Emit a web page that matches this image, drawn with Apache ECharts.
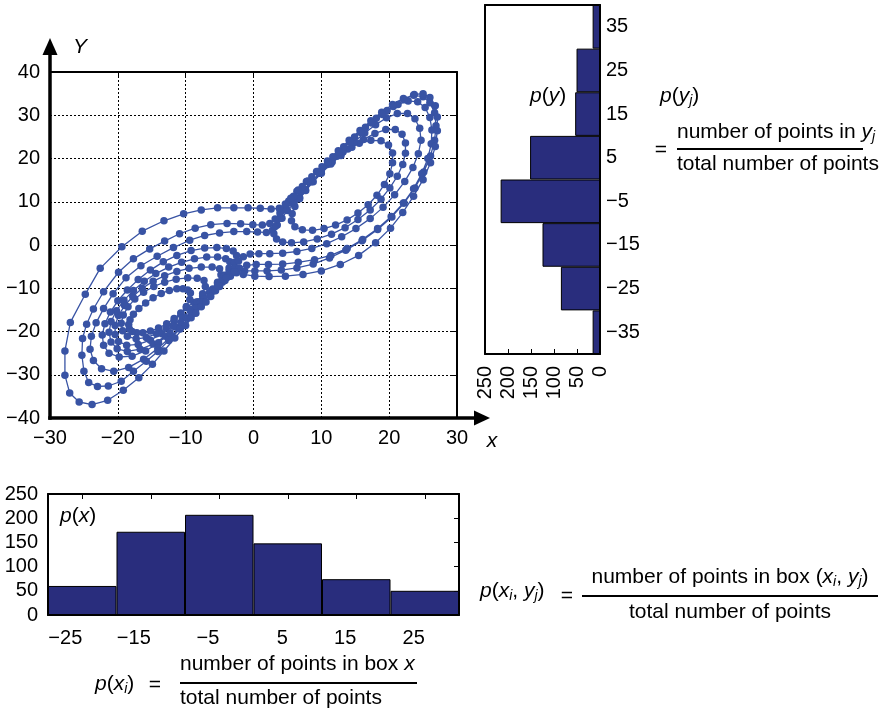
<!DOCTYPE html>
<html>
<head>
<meta charset="utf-8">
<script src="https://cdn.jsdelivr.net/npm/echarts@6/dist/echarts.min.js"></script>
<style>
html,body{margin:0;padding:0;background:#fff;}
#main{width:886px;height:710px;}
</style>
</head>
<body>
<div id="main"></div>
<script>
//trajectory, read loop by loop off the picture, [x, y]
var loopR5 = [[4.2,8],[5.2,10.2],[6.4,12.4],[7.8,14.7],[9.3,17],[10.9,19.4],[12.5,21.8],[14.1,24.2],[15.7,26.5],[17.3,28.7],[18.9,30.7],[20.5,32.5],[22.1,33.9],[23.6,34.6],[25,34.3],[26,32.9],[26.7,30.6],[26.9,27.6],[26.7,24.2],[26.1,20.6],[25.1,16.9],[23.8,13.2],[22.2,9.7],[20.4,6.5],[18.3,3.6],[16,1],[13.6,-1.2],[11.2,-3],[8.8,-4.4],[6.4,-5.3],[4.1,-5.8],[2,-6],[0.2,-6],[-1.3,-6],[-2.5,-6.4],[-3.4,-7.2],[-4.6,-8.6],[-6,-10.2],[-7.5,-11.8],[-8.8,-13.3],[-9.9,-14.5]];
var loopL1 = [[-10.7,-15.7],[-11.7,-17],[-12.8,-18.2],[-14,-19.2],[-15.2,-19.9],[-16.3,-20.3],[-17.2,-20.3],[-17.9,-20],[-18.3,-19.4],[-18.4,-18.4],[-18.2,-17.3],[-17.7,-16],[-16.9,-14.7],[-15.9,-13.4],[-14.8,-12.2],[-13.6,-11.2],[-12.4,-10.5],[-11.3,-10.1],[-10.4,-10.1],[-9.7,-10.4],[-9.3,-11.1]];
var loopL2 = [[-9.4,-12.6],[-9.9,-14.2],[-10.7,-15.9],[-11.7,-17.6],[-12.9,-19.2],[-14.3,-20.5],[-15.8,-21.4],[-17.3,-21.7],[-18.6,-21.1],[-19.3,-19.8],[-19.5,-18.1],[-19.2,-16.2],[-18.5,-14.3],[-17.5,-12.5],[-16.2,-10.9],[-14.7,-9.6],[-13.1,-8.6],[-11.4,-7.9],[-9.7,-7.6],[-8.3,-7.7],[-7.3,-8.2]];
var loopL3 = [[-7.1,-9.6],[-7.5,-11.3],[-8.3,-13.1],[-9.3,-14.9],[-10.5,-16.8],[-11.9,-18.7],[-13.5,-20.5],[-15.2,-22],[-17,-23],[-18.7,-23.2],[-19.9,-22.3],[-20.4,-20.7],[-20.4,-18.6],[-19.9,-16.3],[-19,-14],[-17.8,-11.9],[-16.4,-10],[-14.8,-8.4],[-13.1,-7.1],[-11.3,-6.1],[-9.5,-5.4],[-7.7,-5.1],[-6.1,-5.1],[-5,-5.5]];
var loopL4 = [[-4.8,-6.9],[-5.3,-8.6],[-6.2,-10.5],[-7.3,-12.5],[-8.5,-14.6],[-9.9,-16.8],[-11.4,-19],[-13,-21.1],[-14.8,-22.9],[-16.7,-24.1],[-18.6,-24.6],[-20.1,-24],[-21,-22.4],[-21.3,-20.2],[-21,-17.7],[-20.2,-15.2],[-19.1,-12.8],[-17.7,-10.5],[-16.1,-8.4],[-14.4,-6.6],[-12.5,-5.1],[-10.6,-4],[-8.7,-3.2],[-6.9,-2.8],[-5.3,-2.8],[-4.1,-3.2],[-3.5,-3.9]];
var loopL5 = [[-3.6,-5.3],[-4.3,-7],[-5.3,-8.9],[-6.5,-11],[-7.8,-13.2],[-9.2,-15.5],[-10.7,-17.9],[-12.3,-20.3],[-14,-22.6],[-15.9,-24.5],[-17.9,-25.7],[-19.8,-25.9],[-21.3,-25],[-22.1,-23.2],[-22.3,-20.8],[-21.9,-18.2],[-21.1,-15.5],[-20,-12.9],[-18.6,-10.4],[-17,-8],[-15.2,-5.8],[-13.3,-3.9],[-11.3,-2.4],[-9.2,-1.3],[-7.2,-0.7],[-5.4,-0.6],[-4,-0.8],[-3,-1.4],[-2.5,-2.4]];
var loopL6 = [[-2.8,-4],[-3.6,-6],[-4.7,-8.3],[-6,-10.7],[-7.4,-13.2],[-8.9,-15.8],[-10.5,-18.5],[-12.2,-21.2],[-14.1,-23.9],[-16.2,-26.4],[-18.4,-28.3],[-20.6,-29.2],[-22.4,-28.6],[-23.6,-26.7],[-24.1,-24.1],[-23.9,-21.1],[-23.2,-18],[-22.1,-14.7],[-20.7,-11.3],[-18.8,-7.6],[-16.6,-4.8],[-14.2,-2.6],[-11.8,-0.6],[-9.4,1.1],[-7.2,2.2],[-5,2.8],[-2.9,3.1],[-1,3.1],[0.6,3],[1.9,2.9],[2.8,3.4],[3.5,4.6],[4.2,6.2],[5,8]];
var loopR1 = [[5.9,9.5],[6.8,11],[7.6,12.8],[8.6,14.7],[9.7,16.6],[10.9,18.6],[12.3,20.5],[13.9,22.2],[15.6,23.5],[17.3,24.2],[18.8,24.1],[19.9,23.1],[20.5,21.3],[20.5,19],[20.1,16.5],[19.3,14],[18.2,11.5],[16.9,9.3],[15.4,7.4],[13.8,5.8],[12.1,4.6],[10.4,3.8],[8.7,3.4],[7.2,3.5],[6.1,4.2],[5.6,5.6]];
var loopR2 = [[5.7,7.2],[6.1,8.9],[6.8,10.7],[7.7,12.6],[8.8,14.6],[10,16.6],[11.4,18.7],[12.9,20.7],[14.5,22.6],[16.2,24.4],[17.9,25.8],[19.5,26.7],[20.9,26.7],[21.9,25.6],[22.4,23.6],[22.4,21.2],[22,18.6],[21.2,15.9],[20.1,13.2],[18.8,10.6],[17.2,8.1],[15.4,5.9],[13.5,4],[11.5,2.5],[9.4,1.4],[7.4,0.7],[5.6,0.5],[4.3,0.7],[3.4,1.4],[3,2.6]];
var loopR3 = [[3.2,4.3],[3.9,6.2],[4.8,8.2],[5.9,10.3],[7.1,12.4],[8.5,14.6],[10,16.9],[11.6,19.2],[13.2,21.5],[14.8,23.8],[16.4,25.9],[18,27.8],[19.6,29.4],[21.2,30.4],[22.7,30.4],[23.8,29.2],[24.5,27],[24.7,24.2],[24.3,21.1],[23.5,17.9],[22.3,14.7],[20.8,11.6],[19.1,8.7],[17.2,6.1],[15.1,3.8],[13,1.9],[10.8,0.3],[8.6,-0.8],[6.4,-1.5],[4.3,-1.9],[2.4,-2],[0.8,-2],[-0.5,-2.1],[-1.5,-2.7],[-2.2,-3.7]];
var loopL7 = [[-2.8,-5.4],[-3.8,-7.4],[-5,-9.6],[-6.3,-11.9],[-7.7,-14.3],[-9.2,-16.8],[-10.8,-19.4],[-12.5,-22.1],[-14.1,-24.6],[-15.8,-26.9],[-17.7,-29.2],[-19.5,-31.5],[-21.4,-32.6],[-23,-32.7],[-24.3,-31.8],[-25,-29.2],[-25.3,-25.5],[-25.2,-21.6],[-24.6,-18.3],[-23.6,-14.8],[-22.1,-10.8],[-19.9,-6.3],[-17.7,-3.2],[-15.3,-0.9],[-13.1,0.9],[-10.9,2.6],[-8.6,3.9],[-6.3,4.7],[-3.9,5],[-1.9,4.9],[-0.1,4.7],[1.3,4.6],[2.4,5],[3.2,6],[3.9,7.4]];
var loopR4 = [[4.8,9.2],[5.9,11.3],[7.2,13.5],[8.6,15.8],[10.1,18.1],[11.7,20.4],[13.3,22.7],[14.9,25],[16.5,27.2],[18.1,29.3],[19.7,31.1],[21.3,32.5],[22.8,33.3],[24.2,33.1],[25.3,31.8],[26,29.5],[26.3,26.6],[26.2,23.4],[25.7,20],[24.8,16.5],[23.6,13],[22.1,9.7],[20.3,6.6],[18.3,3.8],[16.1,1.3],[13.8,-0.8],[11.4,-2.4],[9,-3.4],[6.6,-4],[4.3,-4.4],[2.2,-4.5],[0.4,-4.5],[-1,-4.7],[-2.1,-5.3],[-2.9,-6.3]];
var loopL8 = [[-4.2,-8.2],[-5.6,-10.6],[-7,-13.2],[-8.5,-15.8],[-10,-18.6],[-11.6,-21.5],[-13.2,-24.5],[-14.9,-27.6],[-16.9,-30.7],[-19.2,-33.6],[-21.5,-35.9],[-23.8,-36.9],[-25.7,-36.3],[-27.1,-34.2],[-27.8,-30.1],[-27.8,-24.5],[-27,-17.9],[-24.8,-11.4],[-22.6,-5.4],[-19.4,-0.4],[-16.4,3.2],[-13.2,5.6],[-10.3,7.2],[-7.7,8.1],[-5.3,8.6],[-2.9,8.6],[-0.8,8.6],[1,8.5],[2.6,8.3],[3.8,8.5],[4.7,9.5],[5.5,10.8]];
var loopR6 = [[6.6,12.7],[8,14.8],[9.5,17],[11,19.2],[12.6,21.5],[14.2,23.8],[15.8,26],[17.4,28.2],[19,30.2],[20.6,32],[22.2,33.6],[23.7,34.8],[25,35],[26,34.1],[26.8,32.2],[27.1,29.6],[27.1,26.4],[26.8,22.8],[26.1,19],[25,15.1],[23.6,11.3],[22,7.5],[20.2,3.9],[18,0.5],[15.5,-2.4],[12.8,-4.5],[10,-6],[7.3,-6.8],[4.7,-7.2],[2.3,-7.3],[0.2,-7.2],[-1.5,-6.8],[-2.8,-6.2],[-4,-7.6],[-5.3,-9.4]];

//histograms
var binsX = ['\u221225', '\u221215', '\u22125', '5', '15', '25'];
var countX = [60, 172, 207, 148, 74, 50];
var binsY = ['\u221235', '\u221225', '\u221215', '\u22125', '5', '15', '25', '35'];
var countY = [16, 85, 125, 216, 152, 54, 51, 16];

var FONT = "'Liberation Sans', Arial, Helvetica, sans-serif";
var NAVY = '#292d7d';
var BLUE = '#3853a4';

var trajectory = [].concat(loopR5, loopL1, loopL2, loopL3, loopL4, loopL5, loopL6,
	loopR1, loopR2, loopR3, loopL7, loopR4, loopL8, loopR6);

function minus(v){
	return v < 0 ? '\u2212' + (-v) : '' + v;
}
var dotted = {color:'#000', width:1, type:[2,2]};
var edge = {show:true, onZero:false, lineStyle:{color:'#000', width:2}};
var noEdge = {show:false, onZero:false};
function lab(extra){
	var o = {color:'#000', fontSize:20, fontFamily:FONT};
	for(var k in extra){ o[k] = extra[k]; }
	return o;
}
var tickIn = {show:true, inside:true, length:5, lineStyle:{color:'#000', width:1}};

var myChart = echarts.init(document.getElementById('main'));

var option = {
	animation: false,
	backgroundColor: '#fff',
	grid: [
		{left:50, top:72, width:407, height:346, outerBoundsMode:'none'},
		{left:485, top:5, width:115, height:349, outerBoundsMode:'none'},
		{left:48, top:494, width:411, height:121, outerBoundsMode:'none'}
	],
	xAxis: [
		{gridIndex:0, type:'value', min:-30, max:30, interval:10, position:'bottom',
			axisLine:noEdge, axisTick:{show:false},
			axisLabel:lab({formatter:minus, margin:10}),
			splitLine:{show:true, lineStyle:dotted}},
		{gridIndex:0, type:'value', min:-30, max:30, interval:10, position:'top',
			axisLine:edge, axisTick:tickIn, axisLabel:{show:false}, splitLine:{show:false}},
		//右侧 p(y)
		{gridIndex:1, type:'value', min:0, max:250, interval:50, inverse:true, position:'bottom',
			axisLine:edge, axisTick:tickIn,
			axisLabel:lab({rotate:90, margin:12}), splitLine:{show:false}},
		{gridIndex:1, type:'value', min:0, max:250, interval:50, inverse:true, position:'top',
			axisLine:edge, axisTick:{show:false}, axisLabel:{show:false}, splitLine:{show:false}},
		//底部 p(x)
		{gridIndex:2, type:'category', data:binsX, position:'bottom',
			axisLine:edge, axisTick:{show:false},
			axisLabel:lab({align:'right', margin:13})},
		{gridIndex:2, type:'category', data:binsX, position:'top',
			axisLine:edge, axisTick:{show:true, inside:true, length:5, alignWithLabel:true, lineStyle:{color:'#000'}},
			axisLabel:{show:false}}
	],
	yAxis: [
		{gridIndex:0, type:'value', min:-40, max:40, interval:10, position:'left',
			axisLine:noEdge, axisTick:{show:false},
			axisLabel:lab({formatter:minus, margin:10}),
			splitLine:{show:true, lineStyle:dotted}},
		{gridIndex:0, type:'value', min:-40, max:40, interval:10, position:'right',
			axisLine:edge, axisTick:tickIn, axisLabel:{show:false}, splitLine:{show:false}},
		{gridIndex:1, type:'category', data:binsY, position:'right',
			axisLine:edge, axisTick:{show:false}, axisLabel:lab({margin:6})},
		{gridIndex:1, type:'category', data:binsY, position:'left',
			axisLine:edge, axisTick:{show:false}, axisLabel:{show:false}},
		{gridIndex:2, type:'value', min:0, max:250, interval:50, position:'left',
			axisLine:edge, axisTick:{show:false}, axisLabel:lab({margin:10}), splitLine:{show:false}},
		{gridIndex:2, type:'value', min:0, max:250, interval:50, position:'right',
			axisLine:edge, axisTick:tickIn, axisLabel:{show:false}, splitLine:{show:false}}
	],
	series: [
		{type:'line', xAxisIndex:0, yAxisIndex:0, data:trajectory,
			symbol:'circle', symbolSize:7.5, showSymbol:true, showAllSymbol:true,
			lineStyle:{color:BLUE, width:1.3}, itemStyle:{color:BLUE}, silent:true, z:3},
		{type:'bar', xAxisIndex:2, yAxisIndex:2, data:countY, barCategoryGap:'0%',
			itemStyle:{color:NAVY, borderColor:'#000', borderWidth:1}, silent:true},
		{type:'bar', xAxisIndex:4, yAxisIndex:4, data:countX, barCategoryGap:'0%',
			itemStyle:{color:NAVY, borderColor:'#000', borderWidth:1}, silent:true}
	]
};
myChart.setOption(option);

//公式文字
var RICH = {
	n:{fontSize:21, fontFamily:FONT, lineHeight:24, fill:'#000'},
	i:{fontSize:21, fontFamily:FONT, fontStyle:'italic', lineHeight:24, fill:'#000'},
	s:{fontSize:14, fontFamily:FONT, fontStyle:'italic', lineHeight:12, verticalAlign:'bottom', fill:'#000'}
};
function tex(x, y, text, align){
	return {type:'text', x:x, y:y, z:20, silent:true,
		style:{text:text, rich:RICH, align:align || 'left', verticalAlign:'middle',
			fontSize:21, fontFamily:FONT, fill:'#000'}};
}
function rule(x1, x2, y){
	return {type:'line', z:20, silent:true, shape:{x1:x1, y1:y, x2:x2, y2:y},
		style:{stroke:'#000', lineWidth:2}};
}

//带箭头的坐标轴
var o = myChart.convertToPixel({gridIndex:0}, [-30, -40]);
var tl = myChart.convertToPixel({gridIndex:0}, [-30, 40]);
var br = myChart.convertToPixel({gridIndex:0}, [30, -40]);

var graphics = [
	{type:'line', z:20, silent:true, shape:{x1:o[0], y1:o[1] + 1.75, x2:o[0], y2:tl[1] - 18},
		style:{stroke:'#000', lineWidth:3.5}},
	{type:'polygon', z:20, silent:true,
		shape:{points:[[o[0] - 7.5, tl[1] - 17], [o[0] + 7.5, tl[1] - 17], [o[0], tl[1] - 34]]},
		style:{fill:'#000'}},
	{type:'line', z:20, silent:true, shape:{x1:o[0] - 1.75, y1:o[1], x2:br[0] + 18, y2:o[1]},
		style:{stroke:'#000', lineWidth:3.5}},
	{type:'polygon', z:20, silent:true,
		shape:{points:[[br[0] + 17, o[1] - 7.5], [br[0] + 17, o[1] + 7.5], [br[0] + 33, o[1]]]},
		style:{fill:'#000'}},
	tex(tl[0] + 30, tl[1] - 25, '{i|Y}', 'center'),
	tex(br[0] + 35, o[1] + 23, '{i|x}', 'center'),

	tex(530, 96, '{i|p}{n|(}{i|y}{n|)}'),
	tex(60, 516, '{i|p}{n|(}{i|x}{n|)}'),

	//p(yj)
	tex(660, 96, '{i|p}{n|(}{i|y}{s|j}{n|)}'),
	tex(661, 150, '{n|=}', 'center'),
	tex(677, 132, '{n|number of points in }{i|y}{s|j}'),
	rule(677, 863, 149),
	tex(677, 164, '{n|total number of points}'),

	//p(xi)
	tex(95, 684, '{i|p}{n|(}{i|x}{s|i}{n|)}'),
	tex(155, 685, '{n|=}', 'center'),
	tex(180, 664, '{n|number of points in box }{i|x}'),
	rule(180, 417, 683),
	tex(180, 698, '{n|total number of points}'),

	//p(xi, yj)
	tex(480, 591, '{i|p}{n|(}{i|x}{s|i}{n|, }{i|y}{s|j}{n|)}'),
	tex(567, 596, '{n|=}', 'center'),
	tex(730, 577, '{n|number of points in box (}{i|x}{s|i}{n|, }{i|y}{s|j}{n|)}', 'center'),
	rule(582, 878, 596),
	tex(730, 612, '{n|total number of points}', 'center')
];
myChart.setOption({graphic:graphics});
</script>
</body>
</html>
